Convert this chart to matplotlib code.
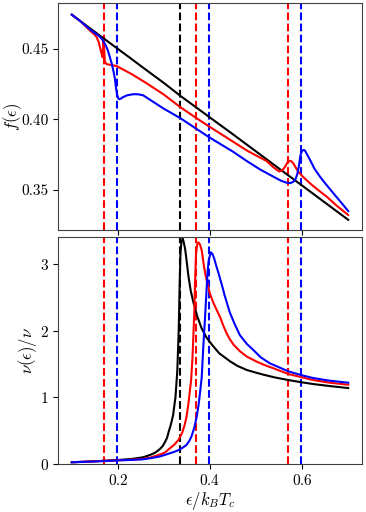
import numpy as np
import matplotlib
matplotlib.use("Agg")
import matplotlib.pyplot as plt
from matplotlib.ticker import FormatStrFormatter

plt.rcParams['font.family'] = 'serif'
plt.rcParams['font.serif'] = ['cmr10']
plt.rcParams['mathtext.fontset'] = 'cm'
plt.rcParams['axes.formatter.use_mathtext'] = True

# top panel: f(eps)
black_fx = [0.10, 0.139, 0.20, 0.226, 0.25, 0.30, 0.335, 0.40, 0.45, 0.50, 0.55, 0.60, 0.65, 0.70]
black_f = [0.474, 0.4645, 0.4498, 0.4436, 0.4377, 0.4257, 0.4168, 0.4013, 0.3894, 0.3773, 0.3652, 0.3532, 0.3411, 0.329]

red_fx = [0.10, 0.12, 0.139, 0.150, 0.1537, 0.158, 0.161, 0.1645, 0.1667, 0.1685, 0.170, 0.1718, 0.176, 0.185,
          0.197, 0.21, 0.23, 0.26, 0.30, 0.3348, 0.370, 0.397, 0.4507, 0.48, 0.50, 0.523, 0.538, 0.550,
          0.557, 0.563, 0.568, 0.5725, 0.577, 0.5811, 0.586, 0.592, 0.60, 0.6174, 0.635, 0.6536, 0.675, 0.700]
red_f = [0.474, 0.469, 0.4629, 0.4598, 0.4582, 0.455, 0.4511, 0.4465, 0.444, 0.4559, 0.450, 0.4405, 0.4390, 0.4385,
         0.4377, 0.4355, 0.432, 0.426, 0.4175, 0.4088, 0.401, 0.3952, 0.3841, 0.378, 0.3745, 0.3705, 0.3660, 0.3632,
         0.3640, 0.3665, 0.3695, 0.3707, 0.3703, 0.3688, 0.3660, 0.3629, 0.3600, 0.3547, 0.3500, 0.3453, 0.3390, 0.3324]

blue_fx = [0.10, 0.12, 0.139, 0.15, 0.157, 0.165, 0.1718, 0.178, 0.1826, 0.187, 0.19, 0.1935, 0.196, 0.1986,
           0.201, 0.203, 0.207, 0.2116, 0.22, 0.2333, 0.245, 0.255, 0.27, 0.30, 0.3348, 0.397, 0.4507, 0.48,
           0.5087, 0.538, 0.555, 0.5667, 0.575, 0.581, 0.586, 0.5898, 0.593, 0.5957, 0.598, 0.6015, 0.604,
           0.6066, 0.611, 0.6174, 0.627, 0.639, 0.652, 0.668, 0.684, 0.700]
blue_f = [0.474, 0.469, 0.4637, 0.461, 0.4594, 0.457, 0.4535, 0.449, 0.444, 0.439, 0.4347, 0.4288, 0.422, 0.417,
          0.4148, 0.4142, 0.4148, 0.4158, 0.417, 0.4178, 0.4177, 0.417, 0.4138, 0.4075, 0.401, 0.3876, 0.377, 0.3705,
          0.3646, 0.3594, 0.3565, 0.3552, 0.3550, 0.3559, 0.358, 0.3618, 0.367, 0.3735, 0.3765, 0.3782, 0.3784,
          0.3777, 0.375, 0.3712, 0.365, 0.3594, 0.354, 0.3477, 0.3415, 0.3352]

# bottom panel: nu(eps)/nu
black_nx = [0.10, 0.15, 0.20, 0.23, 0.255, 0.27, 0.28, 0.29, 0.297, 0.302, 0.307, 0.31, 0.314, 0.317, 0.320,
            0.322, 0.325, 0.327, 0.329, 0.330, 0.332, 0.333, 0.334, 0.336, 0.338, 0.3407, 0.343, 0.346, 0.35,
            0.353, 0.358, 0.364, 0.372, 0.382, 0.392, 0.404, 0.42, 0.4435, 0.46, 0.48, 0.50, 0.516, 0.54,
            0.57, 0.60, 0.624, 0.66, 0.70]
black_n = [0.030, 0.045, 0.064, 0.08, 0.105, 0.14, 0.17, 0.22, 0.27, 0.33, 0.40, 0.48, 0.57, 0.65, 0.74,
           0.85, 1.0, 1.2, 1.4, 1.6, 2.0, 2.3, 2.67, 3.17, 3.33, 3.38, 3.32, 3.22, 3.0,
           2.82, 2.6, 2.42, 2.22, 2.03, 1.9, 1.79, 1.66, 1.54, 1.47, 1.41, 1.37, 1.34, 1.30,
           1.26, 1.225, 1.20, 1.17, 1.14]

red_nx = [0.10, 0.15, 0.20, 0.23, 0.255, 0.27, 0.284, 0.295, 0.302, 0.313, 0.322, 0.331, 0.335, 0.340, 0.345,
          0.349, 0.353, 0.356, 0.359, 0.362, 0.364, 0.366, 0.3674, 0.3696, 0.372, 0.3746, 0.378, 0.382, 0.386,
          0.390, 0.395, 0.400, 0.407, 0.415, 0.422, 0.429, 0.436, 0.443, 0.451, 0.465, 0.48, 0.50, 0.516,
          0.54, 0.57, 0.60, 0.624, 0.66, 0.70]
red_n = [0.030, 0.045, 0.060, 0.068, 0.08, 0.10, 0.13, 0.155, 0.175, 0.24, 0.29, 0.36, 0.41, 0.48, 0.59,
         0.71, 0.9, 1.08, 1.26, 1.6, 1.94, 2.3, 2.69, 3.14, 3.28, 3.32, 3.29, 3.2, 3.0,
         2.84, 2.68, 2.55, 2.42, 2.3, 2.2, 2.07, 1.96, 1.87, 1.79, 1.69, 1.61, 1.54, 1.49,
         1.43, 1.35, 1.30, 1.26, 1.22, 1.19]

blue_nx = [0.10, 0.15, 0.20, 0.23, 0.255, 0.27, 0.29, 0.302, 0.313, 0.322, 0.331, 0.340, 0.349, 0.355, 0.36,
           0.366, 0.371, 0.375, 0.378, 0.382, 0.385, 0.387, 0.389, 0.391, 0.393, 0.395, 0.397, 0.399, 0.402,
           0.405, 0.409, 0.413, 0.418, 0.425, 0.432, 0.443, 0.454, 0.465, 0.48, 0.494, 0.51, 0.530, 0.55,
           0.570, 0.60, 0.624, 0.66, 0.700]
blue_n = [0.030, 0.042, 0.058, 0.065, 0.075, 0.09, 0.115, 0.14, 0.165, 0.185, 0.21, 0.245, 0.29, 0.35, 0.42,
          0.55, 0.71, 0.88, 1.05, 1.3, 1.7, 1.95, 2.17, 2.42, 2.67, 2.9, 3.04, 3.1, 3.17,
          3.15, 3.08, 2.98, 2.87, 2.7, 2.52, 2.27, 2.09, 1.93, 1.8, 1.71, 1.6, 1.51, 1.45,
          1.39, 1.33, 1.29, 1.25, 1.22]

# vertical markers
black_vlines = [0.334]
red_vlines = [0.17, 0.37, 0.57]
blue_vlines = [0.197, 0.397, 0.597]

fig = plt.figure(figsize=(3.66, 5.12), dpi=100)
ax1 = fig.add_axes([0.1585, 0.5508, 0.8306, 0.4434])
ax2 = fig.add_axes([0.1585, 0.0932, 0.8306, 0.444], sharex=ax1)

lw = 1.5
for ax in (ax1, ax2):
    for v in black_vlines:
        ax.axvline(v, color='k', ls='--', lw=lw)
    for v in red_vlines:
        ax.axvline(v, color='r', ls='--', lw=lw)
    for v in blue_vlines:
        ax.axvline(v, color='b', ls='--', lw=lw)

ax1.plot(black_fx, black_f, color='k', lw=lw)
ax1.plot(red_fx, red_f, color='r', lw=lw)
ax1.plot(blue_fx, blue_f, color='b', lw=lw)

ax2.plot(black_nx, black_n, color='k', lw=lw)
ax2.plot(red_nx, red_n, color='r', lw=lw)
ax2.plot(blue_nx, blue_n, color='b', lw=lw)

ax1.set_xlim(0.07, 0.73)
ax1.set_ylim(0.3218, 0.4823)
ax1.set_yticks([0.35, 0.40, 0.45])
ax1.yaxis.set_major_formatter(FormatStrFormatter('%.2f'))
ax1.tick_params(labelbottom=False)
ax1.set_ylabel(r'$f(\epsilon)$', fontsize=12)
ax1.yaxis.set_label_coords(-0.112, 0.5)

ax2.set_ylim(0, 3.4)
ax2.set_yticks([0, 1, 2, 3])
ax2.set_xticks([0.2, 0.4, 0.6])
ax2.set_ylabel(r'$\nu(\epsilon)/\nu$', fontsize=12, labelpad=1)
ax2.set_xlabel(r'$\epsilon/k_BT_c$', fontsize=12, labelpad=1)

for ax in (ax1, ax2):
    ax.tick_params(labelsize=11, pad=3)
    for s in ax.spines.values():
        s.set_color('0.25')

fig.savefig('out.png', dpi=100)
